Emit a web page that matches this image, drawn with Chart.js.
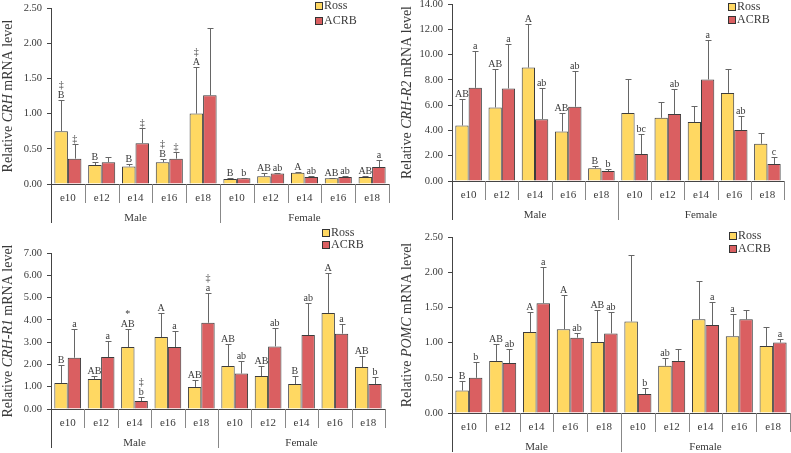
<!DOCTYPE html>
<html>
<head>
<meta charset="utf-8">
<script src="https://cdn.jsdelivr.net/npm/chart.js@4.4.0/dist/chart.umd.min.js"></script>
<style>
  html, body { margin: 0; padding: 0; background: #fff; overflow: hidden; }
  #wrap { position: relative; width: 791px; height: 453px; }
  canvas { position: absolute; }
</style>
</head>
<body>
<div id="wrap">
  <canvas id="c1"></canvas>
  <canvas id="c2"></canvas>
  <canvas id="c3"></canvas>
  <canvas id="c4"></canvas>
</div>
<script>
// --- Data ---
const categories = ['e10', 'e12', 'e14', 'e16', 'e18', 'e10', 'e12', 'e14', 'e16', 'e18'];
const groups = ['Male', 'Female'];
const seriesNames = ['Ross', 'ACRB'];
const genes = ['CRH', 'CRH-R2', 'CRH-R1', 'POMC'];
const yMax = [2.5, 14, 7, 2.5];
const yStep = [0.5, 2, 1, 0.5];

// CRH
const crhRoss = [0.75, 0.27, 0.25, 0.31, 1.00, 0.07, 0.11, 0.16, 0.08, 0.10];
const crhRossSd = [0.45, 0.04, 0.03, 0.04, 0.66, 0.01, 0.04, 0.01, 0.01, 0.02];
const crhAcrb = [0.36, 0.31, 0.58, 0.36, 1.26, 0.08, 0.15, 0.10, 0.10, 0.24];
const crhAcrbSd = [0.21, 0.07, 0.22, 0.09, 0.96, 0.01, 0.01, 0.02, 0.01, 0.10];
const crhRossTag = ['‡\nB', 'B', 'B', '‡\nB', '‡\nA', 'B', 'AB', 'A', 'AB', 'AB'];
const crhAcrbTag = ['‡', '', '‡', '‡', '', 'b', 'ab', 'ab', 'ab', 'a'];

// CRH-R2
const r2Ross = [4.39, 5.82, 8.97, 3.92, 1.00, 5.37, 5.00, 4.66, 6.97, 2.95];
const r2RossSd = [2.06, 3.07, 3.48, 1.42, 0.21, 2.66, 1.21, 1.31, 1.92, 0.81];
const r2Acrb = [7.37, 7.32, 4.89, 5.87, 0.79, 2.13, 5.29, 8.03, 4.03, 1.34];
const r2AcrbSd = [2.92, 3.50, 2.50, 2.81, 0.16, 1.58, 1.95, 3.15, 1.10, 0.53];
const r2RossTag = ['AB', 'AB', 'A', 'AB', 'B', '', '', '', '', ''];
const r2AcrbTag = ['a', 'a', 'ab', 'ab', 'b', 'bc', 'ab', 'a', 'ab', 'c'];

// CRH-R1
const r1Ross = [1.17, 1.35, 2.78, 3.23, 0.99, 1.93, 1.48, 1.12, 4.31, 1.88];
const r1RossSd = [0.82, 0.13, 0.79, 1.08, 0.33, 1.00, 0.45, 0.35, 1.79, 0.48];
const r1Acrb = [2.30, 2.33, 0.36, 2.78, 3.87, 1.59, 2.81, 3.32, 3.38, 1.12];
const r1AcrbSd = [1.30, 0.71, 0.18, 0.70, 1.33, 0.58, 0.81, 1.44, 0.45, 0.30];
const r1RossTag = ['B', 'AB', '*\nAB', 'A', 'AB', 'AB', 'AB', 'B', 'A', 'AB'];
const r1AcrbTag = ['a', 'a', '‡\nb', 'a', '‡\na', 'ab', 'ab', 'ab', 'a', 'b'];

// POMC
const pomcRoss = [0.32, 0.74, 1.15, 1.19, 1.01, 1.30, 0.67, 1.33, 1.09, 0.95];
const pomcRossSd = [0.13, 0.24, 0.28, 0.48, 0.45, 0.95, 0.11, 0.54, 0.31, 0.27];
const pomcAcrb = [0.50, 0.71, 1.56, 1.07, 1.13, 0.27, 0.74, 1.25, 1.33, 1.00];
const pomcAcrbSd = [0.22, 0.20, 0.52, 0.06, 0.31, 0.08, 0.17, 0.32, 0.14, 0.05];
const pomcRossTag = ['B', 'AB', 'A', 'A', 'AB', '', 'ab', '', 'a', ''];
const pomcAcrbTag = ['b', 'ab', 'a', 'ab', 'ab', 'b', '', 'a', '', 'a'];

// --- Layout (canvas placement, not data) ---
const panels = [
  { id: 'c1', left: 0, top: -4, width: 392, height: 232, yw: 51, padTop: 12, xh: 44, padRight: 3, titleX: 8, legX: 315, legY: 9, legGap: 15 },
  { id: 'c2', left: 390, top: -6, width: 401, height: 234, yw: 62, padTop: 10, xh: 47, padRight: 7, titleX: 17, legX: 338, legY: 12, legGap: 13 },
  { id: 'c3', left: 0, top: 226, width: 392, height: 227, yw: 51, padTop: 27, xh: 44, padRight: 7, titleX: 8, legX: 322, legY: 6, legGap: 12 },
  { id: 'c4', left: 390, top: 226, width: 401, height: 227, yw: 62, padTop: 11, xh: 40, padRight: 1, titleX: 17, legX: 339, legY: 9, legGap: 13 }
];

const series = [
  [crhRoss, crhRossSd, crhRossTag, crhAcrb, crhAcrbSd, crhAcrbTag],
  [r2Ross, r2RossSd, r2RossTag, r2Acrb, r2AcrbSd, r2AcrbTag],
  [r1Ross, r1RossSd, r1RossTag, r1Acrb, r1AcrbSd, r1AcrbTag],
  [pomcRoss, pomcRossSd, pomcRossTag, pomcAcrb, pomcAcrbSd, pomcAcrbTag]
];

const colors = ['#FFD862', '#DA5F61'];
const serif = "'Liberation Serif', 'Times New Roman', serif";
const ink = '#3a3a3a';

// --- Plugin: error bars, tags, separators, group labels, y title, legend ---
const extras = {
  id: 'extras',
  afterDatasetsDraw(chart) {
    const ctx = chart.ctx;
    const ys = chart.scales.y;
    chart.data.datasets.forEach((ds, di) => {
      const meta = chart.getDatasetMeta(di);
      meta.data.forEach((bar, j) => {
        const top = Math.round(ys.getPixelForValue(ds.data[j] + ds.sd[j])) + 0.5;
        const x = Math.round(bar.x) + 0.5;
        ctx.save();
        ctx.strokeStyle = '#666';
        ctx.lineWidth = 1;
        ctx.beginPath();
        ctx.moveTo(x, bar.y);
        ctx.lineTo(x, top);
        ctx.moveTo(x - 3, top);
        ctx.lineTo(x + 3, top);
        ctx.stroke();
        const lines = ds.tags[j] ? ds.tags[j].split('\n').reverse() : [];
        ctx.fillStyle = ink;
        ctx.font = '10px ' + serif;
        ctx.textAlign = 'center';
        ctx.textBaseline = 'alphabetic';
        lines.forEach((t, k) => ctx.fillText(t, bar.x, top - 2.5 - k * 10));
        ctx.restore();
      });
    });
  },
  afterDraw(chart, args, opts) {
    const ctx = chart.ctx;
    const xs = chart.scales.x;
    const area = chart.chartArea;
    const n = xs.ticks.length;
    const bound = i => i === 0 ? area.left : i === n ? area.right
      : (xs.getPixelForTick(i - 1) + xs.getPixelForTick(i)) / 2;

    ctx.save();
    // category separators
    for (let i = 0; i <= n; i++) {
      const x = Math.round(bound(i)) + 0.5;
      const long = i === 0 || i === 5;
      ctx.strokeStyle = i === 0 ? '#444' : '#888';
      ctx.lineWidth = 1;
      ctx.beginPath();
      ctx.moveTo(x, area.bottom);
      ctx.lineTo(x, area.bottom + (long ? 39 : 19));
      ctx.stroke();
    }
    // group labels
    ctx.fillStyle = ink;
    ctx.font = '11px ' + serif;
    ctx.textAlign = 'center';
    ctx.textBaseline = 'middle';
    groups.forEach((g, gi) => {
      const cx = (bound(gi * 5) + bound(gi * 5 + 5)) / 2;
      ctx.fillText(g, cx, area.bottom + 34);
    });

    // y-axis title with italic gene name
    const parts = [['Relative ', false], [opts.gene, true], [' mRNA level', false]];
    const size = 14;
    const fontOf = it => (it ? 'italic ' : '') + size + 'px ' + serif;
    let total = 0;
    parts.forEach(p => { ctx.font = fontOf(p[1]); total += ctx.measureText(p[0]).width; });
    ctx.translate(opts.titleX, (area.top + area.bottom) / 2);
    ctx.rotate(-Math.PI / 2);
    ctx.textAlign = 'left';
    let px = -total / 2;
    parts.forEach(p => {
      ctx.font = fontOf(p[1]);
      ctx.fillText(p[0], px, 0);
      px += ctx.measureText(p[0]).width;
    });
    ctx.restore();

    // legend
    ctx.save();
    ctx.font = '12px ' + serif;
    ctx.textBaseline = 'middle';
    ctx.textAlign = 'left';
    chart.data.datasets.forEach((ds, i) => {
      const y = opts.legY + i * opts.legGap;
      ctx.fillStyle = ds.backgroundColor;
      ctx.fillRect(opts.legX + 0.5, Math.round(y - 3.5) + 0.5, 7, 7);
      ctx.strokeStyle = '#333';
      ctx.lineWidth = 1;
      ctx.strokeRect(opts.legX + 0.5, Math.round(y - 3.5) + 0.5, 7, 7);
      ctx.fillStyle = ink;
      ctx.fillText(ds.label, opts.legX + 9, y + 0.5);
    });
    ctx.restore();
  }
};

// --- Build charts ---
panels.forEach((p, pi) => {
  const canvas = document.getElementById(p.id);
  canvas.width = p.width;
  canvas.height = p.height;
  canvas.style.left = p.left + 'px';
  canvas.style.top = p.top + 'px';
  const s = series[pi];

  new Chart(canvas.getContext('2d'), {
    type: 'bar',
    data: {
      labels: categories,
      datasets: [
        { label: seriesNames[0], data: s[0], sd: s[1], tags: s[2], backgroundColor: colors[0], borderColor: '#3c3c3c', borderWidth: 1 },
        { label: seriesNames[1], data: s[3], sd: s[4], tags: s[5], backgroundColor: colors[1], borderColor: '#3c3c3c', borderWidth: 1 }
      ]
    },
    options: {
      responsive: false,
      animation: false,
      devicePixelRatio: 1,
      categoryPercentage: 0.8,
      barPercentage: 1.0,
      layout: { padding: { top: p.padTop, right: p.padRight, left: 0, bottom: 0 } },
      plugins: {
        legend: { display: false },
        tooltip: { enabled: false },
        extras: { gene: genes[pi], titleX: p.titleX, legX: p.legX, legY: p.legY, legGap: p.legGap }
      },
      scales: {
        x: {
          grid: { display: false, drawTicks: false },
          border: { display: true, color: '#444' },
          ticks: { color: ink, padding: 8, font: { family: serif, size: 11 }, maxRotation: 0, autoSkip: false },
          afterFit(scale) { scale.height = p.xh; scale.paddingLeft = 0; scale.paddingRight = 0; }
        },
        y: {
          min: 0,
          max: yMax[pi],
          grid: { drawOnChartArea: false, drawTicks: true, tickLength: 4, color: '#444' },
          border: { display: true, color: '#444' },
          ticks: {
            stepSize: yStep[pi],
            color: ink,
            padding: 5,
            font: { family: serif, size: 10.5 },
            callback: v => v.toFixed(2)
          },
          afterFit(scale) { scale.width = p.yw; scale.paddingTop = 0; scale.paddingBottom = 0; }
        }
      }
    },
    plugins: [extras]
  });
});
</script>
</body>
</html>
